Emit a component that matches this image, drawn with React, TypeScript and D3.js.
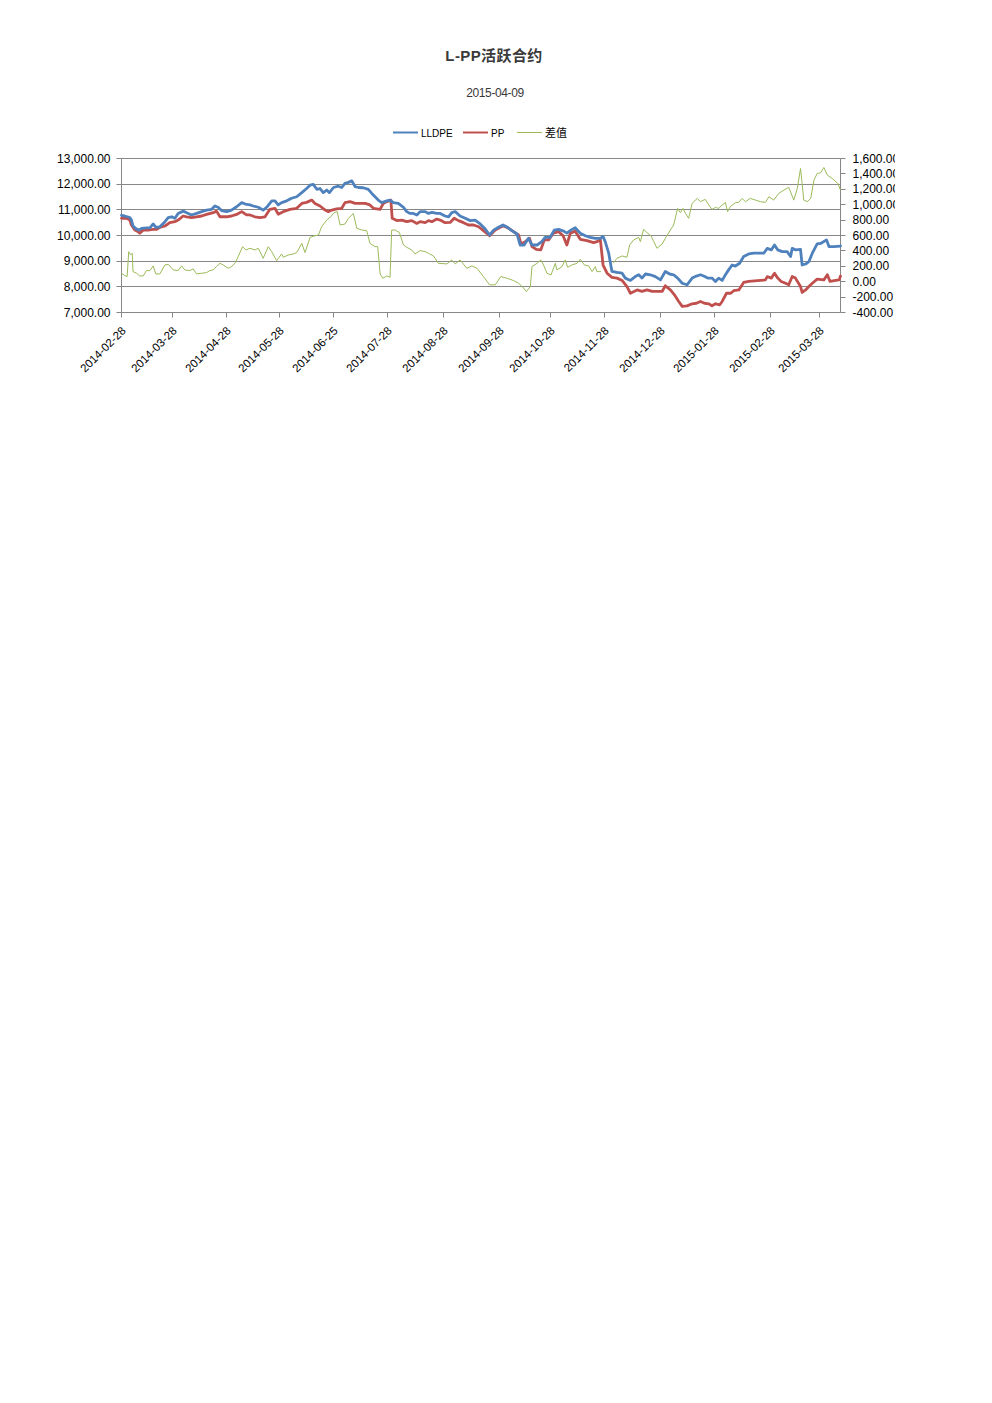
import React from "react";
import * as d3 from "d3";

const chartTitle = "L-PP活跃合约";
const chartSubtitle = "2015-04-09";
const seriesNames = ["LLDPE", "PP", "差值"];
const seriesColors = ["#4F81BD", "#C0504D", "#9BBB59"];

// trading-day index along the category axis
const totalDays = 268;
const xTickDays = [0, 19, 39, 59, 79, 99, 120, 141, 160, 180, 201, 221, 242, 260];
const xTickLabels = [
  "2014-02-28", "2014-03-28", "2014-04-28", "2014-05-28", "2014-06-25", "2014-07-28",
  "2014-08-28", "2014-09-28", "2014-10-28", "2014-11-28", "2014-12-28", "2015-01-28",
  "2015-02-28", "2015-03-28",
];
const leftTicks = [7000, 8000, 9000, 10000, 11000, 12000, 13000];
const rightTicks = [-400, -200, 0, 200, 400, 600, 800, 1000, 1200, 1400, 1600];

const lldpe: [number, number][] = [
  [0,10780],[1.2,10760],[3.1,10700],[3.7,10600],[4.3,10370],[5.6,10250],[6.6,10210],[7.5,10280],[9.3,10300],[10.6,10300],
  [11.8,10450],[12.8,10320],[14.3,10340],[16.2,10540],[17.4,10700],[18.7,10730],[19.9,10670],[21.1,10860],[23,10950],[24.3,10890],
  [26.1,10800],[28,10860],[29.9,10930],[31.7,10990],[33.6,11020],[34.8,11150],[36,11100],[37.3,10970],[39.2,10930],[41,10990],
  [42.9,11120],[44.8,11280],[46.6,11210],[47.9,11190],[49.1,11150],[51,11100],[52.8,10990],[54.1,11100],[56,11350],[57.2,11350],
  [58.4,11190],[59.7,11280],[61.6,11350],[63.4,11450],[65.3,11510],[67.2,11670],[69,11830],[70.3,11960],[71.5,11990],[72.8,11800],
  [74,11830],[75.2,11670],[76.5,11770],[77.5,11670],[79,11870],[80.8,11920],[82.1,11870],[83.3,12030],[84.6,12070],[85.8,12130],
  [87.1,11900],[88.3,11870],[90.1,11860],[92,11800],[93.3,11640],[94.5,11510],[95.7,11380],[97,11280],[98.9,11350],[100.1,11380],
  [101.3,11280],[103.2,11250],[105.1,11100],[106.3,10930],[107.6,10860],[108.8,10860],[110.1,10800],[111.3,10930],[113.2,10930],[114.4,10860],
  [115.7,10900],[117.5,10860],[118.8,10860],[120.6,10760],[121.9,10730],[123.1,10890],[124.4,10930],[126.2,10760],[128.1,10670],[130,10580],
  [131.8,10600],[133.7,10450],[135.6,10250],[137.2,10020],[138.7,10210],[140.5,10320],[142.2,10410],[143.9,10320],[145.5,10190],[147.4,10060],
  [148.6,9630],[150.1,9630],[151.7,9890],[153,9630],[154.9,9630],[156.7,9760],[157.9,9930],[159.8,9930],[161.3,10210],[162.9,10240],
  [164.8,10170],[166,10090],[167.5,10210],[169.1,10300],[171,10090],[172.9,9990],[174.7,9930],[176.6,9890],[178.5,9890],[179.5,9960],
  [180.3,9760],[181.6,9310],[182.8,8600],[184.7,8560],[186.6,8530],[187.8,8340],[189.7,8250],[191.5,8400],[192.8,8470],[194,8340],
  [195.3,8500],[197.1,8470],[199,8400],[200.9,8270],[202.7,8600],[204.3,8500],[205.8,8470],[207.3,8340],[209,8140],[210.8,8080],
  [212.7,8340],[214.3,8420],[215.8,8470],[217,8420],[218.5,8340],[220.1,8340],[221.4,8210],[222.6,8340],[223.9,8250],[225.1,8470],
  [226.3,8660],[227.6,8850],[228.8,8810],[230.4,8920],[231.9,9180],[233.8,9280],[235.7,9310],[239.4,9310],[240.7,9500],[242.2,9440],
  [243.4,9630],[244.6,9440],[246.3,9370],[248.1,9370],[249.4,9180],[250,9500],[251.2,9440],[253.1,9460],[253.7,8850],[255,8890],
  [256.2,8980],[257.5,9310],[259.3,9670],[260.6,9690],[262.8,9830],[263.7,9570],[265.5,9570],[268,9590],
];

const pp: [number, number][] = [
  [0,10670],[1.9,10670],[3.1,10600],[3.7,10410],[5,10210],[6.2,10150],[6.8,10090],[8.1,10210],[9.9,10210],[11.8,10240],
  [13.1,10240],[14.3,10320],[16.2,10370],[18,10500],[19.9,10540],[21.1,10600],[23,10760],[24.3,10730],[26.1,10700],[28,10730],
  [29.9,10760],[31.7,10820],[34.2,10890],[35.4,10950],[36.7,10730],[39.2,10730],[41,10760],[42.9,10820],[44.8,10930],[46.6,10800],
  [47.9,10800],[49.7,10730],[51.6,10700],[53.5,10730],[55.3,11020],[57.2,11060],[58.4,10830],[60.3,10930],[62.8,11020],[65.3,11060],
  [67.2,11250],[69,11290],[70.9,11380],[72.1,11250],[74,11150],[75.9,10990],[77.1,10930],[78.4,10990],[80.2,11040],[82.1,11060],
  [83.3,11280],[85.2,11320],[87.1,11250],[90.8,11250],[92.6,11190],[93.9,11060],[96.4,11020],[97.6,11250],[98.9,11320],[100.4,11380],
  [100.9,10670],[102.6,10580],[104.5,10600],[106.3,10540],[108.2,10580],[110.1,10470],[111.3,10540],[113.2,10500],[114.4,10580],[115.7,10540],
  [117.5,10640],[118.8,10600],[120.6,10500],[122.5,10510],[124,10670],[125.6,10580],[127.5,10500],[129.3,10410],[131.2,10410],[133.1,10340],
  [134.9,10190],[137.2,9990],[139.3,10210],[141.2,10320],[142.4,10370],[144.3,10280],[146.1,10150],[148,10020],[148.9,9670],[150.5,9760],
  [152.1,9890],[153,9570],[154.6,9460],[156.3,9440],[157.6,9830],[159.2,9830],[161,10090],[162.9,10150],[164.6,9990],[166,9630],
  [167.3,10090],[169.1,10170],[171,9850],[173.5,9800],[176,9720],[177.2,9760],[178.5,9830],[179.5,8850],[181,8530],[182.8,8370],
  [184.7,8340],[186.6,8250],[188.4,8010],[189.7,7750],[192.2,7880],[194,7820],[195.9,7880],[197.8,7820],[201.5,7820],[202.7,8040],
  [204.6,7880],[206.1,7690],[207.7,7430],[209,7240],[210.8,7260],[212.7,7340],[214.3,7360],[215.8,7430],[217.3,7360],[218.9,7340],
  [220.1,7260],[221.4,7340],[223,7300],[223.9,7430],[225.5,7750],[227.1,7750],[228.2,7850],[230.1,7880],[231.9,8170],[233.8,8210],
  [238.2,8250],[240,8270],[240.7,8400],[242.2,8340],[243.4,8530],[244.6,8340],[245.9,8210],[247.5,8140],[248.7,8080],[250,8400],
  [251.2,8340],[253.1,8010],[253.7,7780],[255,7880],[256.2,8010],[257.5,8140],[259.3,8300],[261.8,8270],[263.1,8470],[264.1,8210],
  [266.2,8250],[267.5,8270],[268,8420],
];

const spread: [number, number | null][] = [
  [0,110],[1.2,80],[2.1,67],[2.7,390],[3.4,347],[4,369],[4.3,131],[5.6,110],[6.8,75],[8.1,75],
  [9.3,144],[10.6,144],[11.8,205],[12.8,101],[14.3,101],[16.2,218],[17.4,226],[19.3,153],[21.1,144],[22.4,205],
  [23.6,153],[25.5,144],[26.7,166],[28,101],[29.9,110],[31.7,118],[32.9,144],[34.2,153],[35.4,196],[36.7,239],
  [37.9,218],[39.8,174],[41,196],[42.3,239],[43.5,326],[45.1,455],[46.4,412],[47.9,434],[49.7,412],[51,434],
  [52.8,304],[54.7,455],[56,390],[57.8,274],[59.7,360],[60.3,317],[62.2,347],[64,360],[65.3,378],[67.2,498],
  [68.4,378],[70.3,576],[71.8,594],[73.4,606],[74.6,714],[76.5,801],[78,844],[79.2,896],[80.4,909],[81.5,736],
  [83.3,749],[84.6,823],[86.4,887],[87.7,693],[89.6,671],[91.4,663],[92.6,498],[94.5,455],[95.5,455],[96.4,101],
  [97.4,45],[98.9,75],[100.1,58],[100.7,671],[102,671],[103.6,637],[105.1,477],[106.3,447],[108.2,412],[109.4,360],
  [111.3,404],[113.2,390],[114.4,369],[116.3,334],[118.1,239],[121.3,231],[123.1,283],[124.4,231],[126.2,283],[128.7,174],
  [130.6,205],[132.5,174],[134.9,67],[137.2,-41],[139.3,-41],[141.4,67],[143.7,45],[146.1,15],[148,-20],[149.6,-72],
  [150.9,-128],[152.4,-63],[153,196],[154.9,239],[156.3,283],[157.3,218],[158.6,110],[160.1,88],[161.7,239],[162.3,153],
  [164.2,196],[165.4,283],[166.3,187],[167.9,218],[169.8,239],[171,291],[172.5,218],[174.1,205],[175.4,131],[176.6,196],
  [177.2,131],[178.7,131],[181,null],[183.2,239],[184.7,304],[186.6,334],[188.4,317],[189.4,477],[190.9,542],[192.8,576],
  [193.4,520],[194.6,680],[195.9,637],[197.4,594],[198.4,520],[199.6,434],[201.5,490],[203.1,585],[204.6,671],[205.8,736],
  [207.3,952],[208.3,896],[209.3,952],[210.2,887],[211.4,823],[212.7,1017],[214.6,1082],[215.8,1039],[217.6,1069],[218.9,996],
  [220.1,939],[221.4,965],[222.6,952],[223.9,996],[225.1,1030],[225.9,909],[226.9,974],[228.8,1026],[230.1,1030],[231.3,1082],
  [232.6,1039],[234.4,1082],[236.3,1060],[238.2,1039],[240,1030],[241.3,1104],[243.1,1060],[245,1147],[246.9,1190],[248.7,1224],
  [250.6,1060],[251.9,1211],[253.1,1470],[253.7,1276],[254.3,1060],[255.6,1039],[256.9,1082],[258.1,1319],[259.3,1406],[260.6,1414],
  [261.8,1483],[263.1,1384],[264.9,1341],[267,1276],[268,1190],
];

// layout
const W = 992;
const H = 1403;
const plot = { left: 121.5, right: 840.5, top: 158.5, bottom: 312.5 };
const legendItemX = [393, 463, 517];
const FONT = "'Liberation Sans', Arial, 'Noto Sans CJK SC', sans-serif";
const GRID = "#878787";

const fmt = (v: number) => d3.format(",.2f")(v).replace("\u2212", "-");
const crisp = (v: number) => Math.round(v - 0.5) + 0.5;

export default function App() {
  const x = d3.scaleLinear().domain([0, totalDays]).range([plot.left, plot.right]);
  const yL = d3.scaleLinear().domain([7000, 13000]).range([plot.bottom, plot.top]);
  const yR = d3.scaleLinear().domain([-400, 1600]).range([plot.bottom, plot.top]);

  const lineL = d3
    .line<[number, number]>()
    .x((d) => x(d[0]))
    .y((d) => yL(d[1]));
  const lineR = d3
    .line<[number, number | null]>()
    .defined((d) => d[1] !== null)
    .x((d) => x(d[0]))
    .y((d) => yR(d[1] as number));

  return (
    <svg
      width={W}
      height={H}
      style={{ position: "absolute", left: 0, top: 0, background: "#fff" }}
      fontFamily={FONT}
    >
      <defs>
        <clipPath id="rightLabelClip">
          <rect x={0} y={0} width={895} height={H} />
        </clipPath>
      </defs>
      <rect x={0} y={0} width={W} height={H} fill="#fff" />

      {/* titles */}
      <text x={494} y={61} textAnchor="middle" fontSize={15} fontWeight="bold" fill="#3a3a3a" letterSpacing={0.4}>
        {chartTitle}
      </text>
      <text x={495} y={97} textAnchor="middle" fontSize={12} fill="#3a3a3a" letterSpacing={-0.4}>
        {chartSubtitle}
      </text>

      {/* legend */}
      {seriesNames.map((name, i) => (
        <g key={name}>
          <line
            x1={legendItemX[i]}
            x2={legendItemX[i] + 25}
            y1={132.5}
            y2={132.5}
            stroke={seriesColors[i]}
            strokeWidth={i < 2 ? 2 : 1}
          />
          <text x={legendItemX[i] + 28} y={136.5} fontSize={i < 2 ? 10 : 11} fill="#000">
            {name}
          </text>
        </g>
      ))}

      {/* gridlines */}
      {leftTicks.map((t) => (
        <line
          key={"g" + t}
          x1={plot.left}
          x2={plot.right}
          y1={crisp(yL(t))}
          y2={crisp(yL(t))}
          stroke={GRID}
          strokeWidth={1}
        />
      ))}

      {/* axes */}
      <line x1={plot.left} x2={plot.left} y1={plot.top} y2={plot.bottom} stroke={GRID} />
      <line x1={plot.right} x2={plot.right} y1={plot.top} y2={plot.bottom} stroke={GRID} />
      <line x1={plot.left} x2={plot.right} y1={plot.bottom} y2={plot.bottom} stroke={GRID} />

      {/* left axis */}
      {leftTicks.map((t) => (
        <g key={"l" + t}>
          <line x1={plot.left - 5} x2={plot.left} y1={crisp(yL(t))} y2={crisp(yL(t))} stroke={GRID} />
          <text x={110.5} y={yL(t) + 4} textAnchor="end" fontSize={12} fill="#000">
            {fmt(t)}
          </text>
        </g>
      ))}

      {/* right axis */}
      <g clipPath="url(#rightLabelClip)">
        {rightTicks.map((t) => (
          <g key={"r" + t}>
            <line x1={plot.right} x2={plot.right + 5} y1={crisp(yR(t))} y2={crisp(yR(t))} stroke={GRID} />
            <text x={852.5} y={yR(t) + 4} fontSize={12} fill="#000">
              {fmt(t)}
            </text>
          </g>
        ))}
      </g>

      {/* x axis */}
      {xTickDays.map((d, i) => {
        const px = crisp(x(d));
        return (
          <g key={"x" + d}>
            <line x1={px} x2={px} y1={plot.bottom} y2={plot.bottom + 5} stroke={GRID} />
            <text
              transform={`translate(${px + 5},${plot.bottom + 19}) rotate(-45)`}
              textAnchor="end"
              fontSize={11.5}
              fill="#000"
            >
              {xTickLabels[i]}
            </text>
          </g>
        );
      })}

      {/* series */}
      <path d={lineR(spread) || ""} fill="none" stroke={seriesColors[2]} strokeWidth={1} strokeLinejoin="round" />
      <path d={lineL(pp) || ""} fill="none" stroke={seriesColors[1]} strokeWidth={2.8} strokeLinejoin="round" strokeLinecap="round" />
      <path d={lineL(lldpe) || ""} fill="none" stroke={seriesColors[0]} strokeWidth={2.8} strokeLinejoin="round" strokeLinecap="round" />
    </svg>
  );
}
